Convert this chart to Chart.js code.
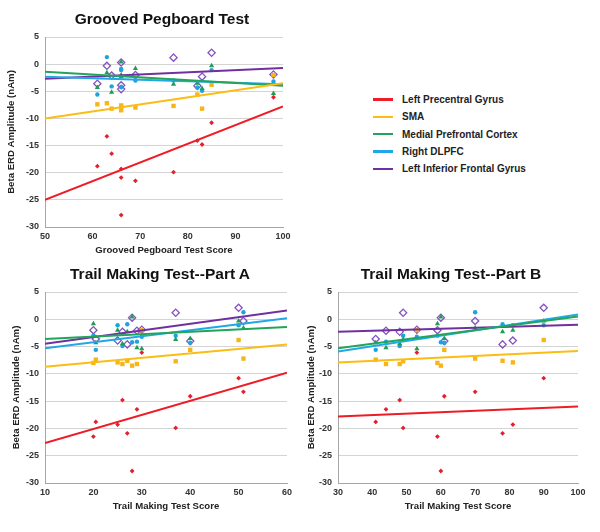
<!DOCTYPE html>
<html>
<head>
<meta charset="utf-8">
<script src="https://cdn.jsdelivr.net/npm/chart.js@4.4.1/dist/chart.umd.min.js"></script>
<style>
    body { margin: 0; background: #fff; width: 600px; height: 532px; position: relative; overflow: hidden;
           font-family: "Liberation Sans", Arial, sans-serif; }
    .panel { position: absolute; }
    .title { position: absolute; font-weight: bold; font-size: 15.5px; color: #111; white-space: nowrap;
             transform: translate(-50%, -50%); }
    #legend { position: absolute; left: 373px; top: 91px; }
    .item { display: flex; align-items: center; height: 17.3px; font-weight: bold; font-size: 10px; color: #222; }
    .swatch { width: 20px; height: 2.5px; margin-right: 9px; }
</style>
</head>
<body>
<div class="panel" style="left:0;top:0"><canvas id="pegboard" width="300" height="260"></canvas></div>
<div class="panel" style="left:0;top:260px"><canvas id="trailA" width="300" height="272"></canvas></div>
<div class="panel" style="left:300px;top:260px"><canvas id="trailB" width="300" height="272"></canvas></div>
<div class="title" style="left:162px;top:19px">Grooved Pegboard Test</div>
<div class="title" style="left:160px;top:274px">Trail Making Test--Part A</div>
<div class="title" style="left:451px;top:274px">Trail Making Test--Part B</div>
<div id="legend"></div>
<script>
'use strict';
// ===================== data =====================
const regions = ['Left Precentral Gyrus', 'SMA', 'Medial Prefrontal Cortex', 'Right DLPFC', 'Left Inferior Frontal Gyrus'];

// one entry per subject
const pegboardScore = [61, 63, 64, 66, 66, 66, 69, 77, 82, 83, 85, 98];
const trailAScore   = [20.5, 51, 29, 25, 27, 28, 20, 37, 40, 26, 50, 30];
const trailBScore   = [41, 70, 44, 81, 78, 60, 59, 49, 61, 48, 90, 53];

const leftPrecentral = [-18.8, -13.3, -16.5, -19.3, -20.9, -27.8, -21.5, -19.9, -14.1, -14.8, -10.8, -6.1];
const sma            = [-7.4, -7.2, -8.2, -7.9, -7.6, -8.5, -8.0, -7.7, -5.6, -8.2, -3.8, -2.0];
const medialPFC      = [-4.3, -1.6, -5.2, -2.0, -2.3, 0.4, -0.8, -3.7, -3.5, -4.5, -0.3, -5.4];
const rightDLPFC     = [-5.6, 1.3, -4.1, -1.1, -0.9, -4.2, -3.0, -3.0, -4.3, -4.9, -1.1, -3.2];
const leftIFG        = [-3.6, -0.3, -2.1, -3.9, -4.6, 0.3, -2.0, 1.2, -4.0, -2.3, 2.1, -1.9];

// fitted line ends [at x min, at x max]
const pegboardFit = [[-25.0, -7.8], [-10.0, -3.5], [-1.4, -4.0], [-2.3, -3.7], [-2.7, -0.7]];
const trailAFit   = [[-22.7, -9.8], [-8.7, -4.6], [-3.6, -1.4], [-5.3, 0.2], [-4.5, 1.6]];
const trailBFit   = [[-17.8, -16.0], [-7.9, -5.8], [-5.3, 0.5], [-5.9, 0.9], [-2.3, -1.0]];

const yTicks = [5, 0, -5, -10, -15, -20, -25, -30];

// ===================== styles =====================
const amplitudes = [leftPrecentral, sma, medialPFC, rightDLPFC, leftIFG];
const lineColors = ['#ee1c25', '#fbbc13', '#22a55a', '#20a8e6', '#7030a0'];
const markers = [
    { pointStyle: 'rectRot',  radius: 2.4, bg: '#e3202b', border: '#e3202b', bw: 0 },
    { pointStyle: 'rect',     radius: 3.1, bg: '#f6b51b', border: '#f6b51b', bw: 0 },
    { pointStyle: 'triangle', radius: 3.0, bg: '#1f9d55', border: '#1f9d55', bw: 0 },
    { pointStyle: 'circle',   radius: 2.2, bg: '#1ea3dc', border: '#1ea3dc', bw: 0 },
    { pointStyle: 'rectRot',  radius: 3.6, bg: 'rgba(0,0,0,0)', border: '#8652c0', bw: 1.3 },
];

const FONT = '"Liberation Sans", Arial, sans-serif';

document.getElementById('legend').innerHTML = regions.map((r, i) =>
    `<div class="item"><span class="swatch" style="background:${lineColors[i]}"></span>${r}</div>`).join('');

function makeChart(id, scores, fits, xMin, xMax, xTitle, pad, yWidth) {
    const datasets = [];
    amplitudes.forEach((amp, i) => {
        datasets.push({
            type: 'line',
            data: [{ x: xMin, y: fits[i][0] }, { x: xMax, y: fits[i][1] }],
            borderColor: lineColors[i],
            borderWidth: 2,
            pointRadius: 0,
            order: 0,
        });
        const m = markers[i];
        datasets.push({
            type: 'scatter',
            data: scores.map((x, k) => ({ x, y: amp[k] })),
            pointStyle: m.pointStyle,
            pointRadius: m.radius,
            backgroundColor: m.bg,
            borderColor: m.border,
            borderWidth: m.bw,
            order: 1,
        });
    });

    return new Chart(document.getElementById(id), {
        data: { datasets },
        options: {
            responsive: false,
            animation: false,
            layout: { padding: pad },
            plugins: { legend: { display: false }, tooltip: { enabled: false } },
            scales: {
                x: {
                    type: 'linear', min: xMin, max: xMax,
                    ticks: { stepSize: 10, color: '#333', padding: 4, font: { family: FONT, size: 9, weight: 'bold' } },
                    grid: { display: false, drawTicks: false },
                    border: { color: '#a6a6a6' },
                    title: { display: true, text: xTitle, color: '#222', font: { family: FONT, size: 9.6, weight: 'bold' } },
                    afterFit: s => { s.height = 33; },
                },
                y: {
                    min: -30, max: 5,
                    afterBuildTicks: s => { s.ticks = yTicks.map(v => ({ value: v })); },
                    ticks: { color: '#333', padding: 6, font: { family: FONT, size: 9, weight: 'bold' } },
                    grid: { color: '#d4d4d4', drawTicks: false },
                    border: { color: '#a6a6a6' },
                    title: { display: true, text: 'Beta ERD Amplitude (nAm)', color: '#222', font: { family: FONT, size: 9.6, weight: 'bold' } },
                    afterFit: s => { s.width = yWidth; },
                },
            },
        },
    });
}

makeChart('pegboard', pegboardScore, pegboardFit, 50, 100, 'Grooved Pegboard Test Score',
    { top: 37, right: 17, bottom: 0, left: 2 }, 43);
makeChart('trailA', trailAScore, trailAFit, 10, 60, 'Trail Making Test Score',
    { top: 32, right: 13, bottom: 16, left: 7 }, 38);
makeChart('trailB', trailBScore, trailBFit, 30, 100, 'Trail Making Test Score',
    { top: 32, right: 22, bottom: 16, left: 2 }, 36);
</script>
</body>
</html>
